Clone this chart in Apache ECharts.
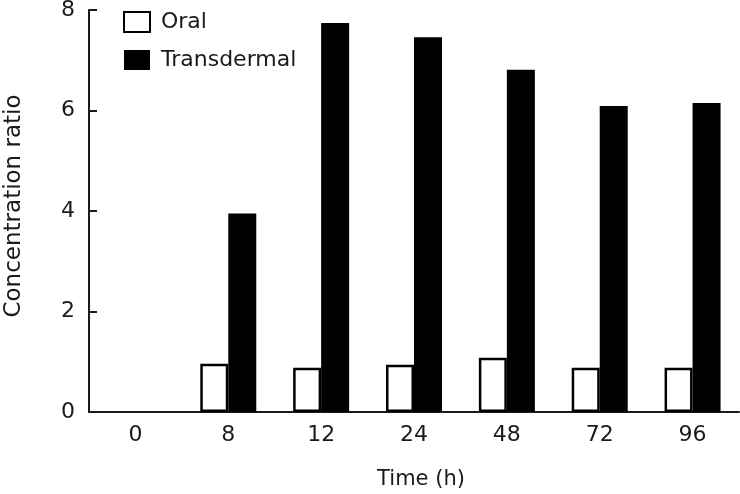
<!DOCTYPE html>
<html>
<head>
<meta charset="utf-8">
<script src="https://cdn.jsdelivr.net/npm/echarts@6/dist/echarts.min.js"></script>
<style>html,body{margin:0;padding:0;background:#fff;}#c{width:740px;height:494px;}</style>
</head>
<body>
<div id="c"></div>
<script>
const categories = ['0', '8', '12', '24', '48', '72', '96'];
const oral = [null, 0.96, 0.88, 0.94, 1.08, 0.88, 0.88];
const transdermal = [null, 3.95, 7.74, 7.46, 6.81, 6.09, 6.15];
const yTicks = [0, 2, 4, 6, 8];

const FONT = 'DejaVu Sans';
const INK = '#1a1a1a';
const chart = echarts.init(document.getElementById('c'), null, {renderer: 'canvas'});
chart.setOption({
  backgroundColor: '#fff',
  animation: false,
  textStyle: {fontFamily: FONT, color: INK},
  grid: {left: 89, right: 1, top: 10, bottom: 82, containLabel: false, outerBoundsMode: 'none'},
  legend: {
    orient: 'vertical', left: 118, top: 6, itemWidth: 26, itemHeight: 20, itemGap: 16,
    icon: 'rect',
    textStyle: {fontFamily: FONT, fontSize: 22, color: INK, padding: [0, 0, 0, 6]},
    data: ['Oral', 'Transdermal']
  },
  xAxis: {
    type: 'category', data: categories,
    name: 'Time (h)', nameLocation: 'middle', nameGap: 57,
    nameTextStyle: {fontFamily: FONT, fontSize: 21, color: INK, padding: [0, 0, 0, 14]},
    axisLine: {lineStyle: {color: INK, width: 2}},
    axisTick: {inside: true, length: 6, lineStyle: {color: INK, width: 2}},
    axisLabel: {fontFamily: FONT, fontSize: 22, color: INK, margin: 12}
  },
  yAxis: {
    type: 'value', min: yTicks[0], max: yTicks[yTicks.length - 1], interval: 2,
    name: 'Concentration ratio', nameLocation: 'middle', nameGap: 63,
    nameTextStyle: {fontFamily: FONT, fontSize: 23, color: INK, padding: [0, 0, 0, 10]},
    axisLine: {show: true, lineStyle: {color: INK, width: 2}},
    axisTick: {show: true, inside: true, length: 8, lineStyle: {color: INK, width: 2}},
    splitLine: {show: false},
    axisLabel: {fontFamily: FONT, fontSize: 22, color: INK, margin: 14,
      formatter: v => yTicks.includes(v) ? String(v) : ''}
  },
  series: [
    {name: 'Oral', type: 'bar', data: oral, barWidth: 28, barGap: '0%',
     itemStyle: {color: '#fff', borderColor: '#000', borderWidth: 2.5}},
    {name: 'Transdermal', type: 'bar', data: transdermal, barWidth: 28,
     itemStyle: {color: '#000'}}
  ]
});
</script>
</body>
</html>
